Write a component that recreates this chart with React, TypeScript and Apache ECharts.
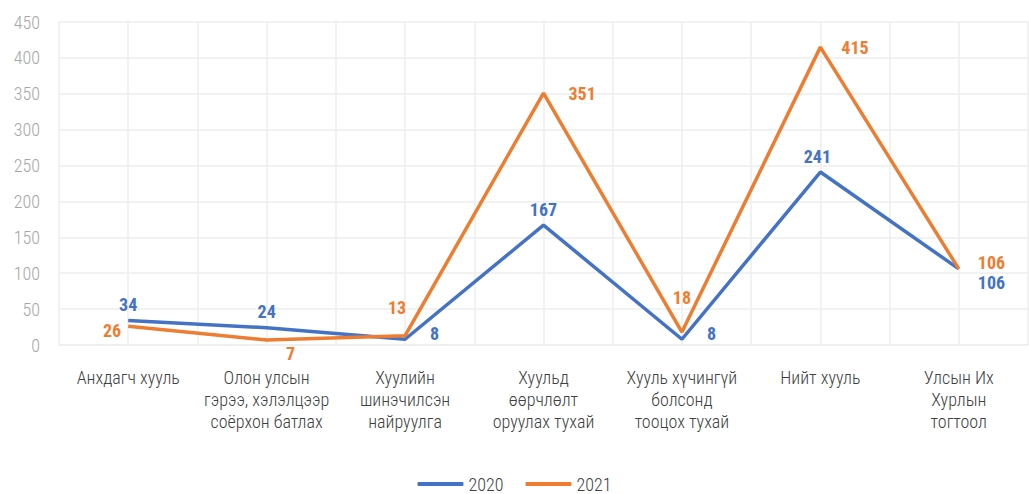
import React, { useEffect, useRef } from "react";
import * as echarts from "echarts";

const categories = [
  "Анхдагч хууль",
  "Олон улсын\nгэрээ, хэлэлцээр\nсоёрхон батлах",
  "Хуулийн\nшинэчилсэн\nнайруулга",
  "Хуульд\nөөрчлөлт\nоруулах тухай",
  "Хууль хүчингүй\nболсонд\nтооцох тухай",
  "Нийт хууль",
  "Улсын Их\nХурлын\nтогтоол",
];
const values2020 = [34, 24, 8, 167, 8, 241, 106];
const values2021 = [26, 7, 13, 351, 18, 415, 106];
const yTicks = { min: 0, max: 450, interval: 50 };

const FONT = "'Roboto Condensed', 'Liberation Sans Narrow', 'Arial Narrow', Roboto, sans-serif";
const BLUE = "#4472C4";
const ORANGE = "#ED7D31";

const pos2020: any[] = [
  { position: "top", offset: [0, -2] },
  { position: "top", offset: [0, -2] },
  { position: "right", offset: [20, -6] },
  { position: "top", offset: [0, -2] },
  { position: "right", offset: [20, -6] },
  { position: "top", offset: [-3, -2] },
  { position: "right", offset: [14, 14] },
];
const pos2021: any[] = [
  { position: "left", offset: [-2, 4] },
  { position: "bottom", offset: [24, 0] },
  { position: "top", offset: [-8, -14] },
  { position: "right", offset: [20, 0] },
  { position: "top", offset: [0, -21] },
  { position: "right", offset: [16, 0] },
  { position: "right", offset: [14, -6] },
];

export default function App() {
  const ref = useRef<HTMLDivElement>(null);
  useEffect(() => {
    if (!ref.current) return;
    const chart = echarts.init(ref.current, undefined, { renderer: "svg" });
    const labelStyle = (color: string) => ({
      show: true,
      color,
      fontFamily: FONT,
      fontWeight: "bold",
      fontSize: 18,
    });
    chart.setOption({
      animation: false,
      grid: { left: 59, right: 1, top: 22, bottom: 149 },
      legend: {
        top: 475,
        left: "center",
        padding: 0,
        itemWidth: 46,
        itemHeight: 4,
        itemGap: 22,
        icon: "roundRect",
        textStyle: { color: "#404040", fontSize: 18, fontFamily: FONT, fontWeight: 300, lineHeight: 18 },
        data: ["2020", "2021"],
      },
      xAxis: [
        {
          type: "category",
          data: categories,
          boundaryGap: true,
          axisLine: { show: true, lineStyle: { color: "#eeeeee", width: 1.5 } },
          axisTick: { show: false },
          splitLine: { show: false },
          axisLabel: {
            color: "#404040",
            fontSize: 18,
            fontFamily: FONT,
            fontWeight: 300,
            lineHeight: 22,
            margin: 21,
            interval: 0,
          },
        },
        {
          type: "category",
          data: Array.from({ length: categories.length * 2 }, (_, i) => String(i)),
          boundaryGap: true,
          position: "bottom",
          axisLine: { show: false },
          axisTick: { show: false },
          axisLabel: { show: false },
          splitLine: { show: true, lineStyle: { color: "#eeeeee", width: 1.5 } },
        },
      ],
      yAxis: {
        type: "value",
        min: yTicks.min,
        max: yTicks.max,
        interval: yTicks.interval,
        axisLine: { show: false },
        axisTick: { show: false },
        splitLine: { show: true, lineStyle: { color: "#eeeeee", width: 1.5 } },
        axisLabel: { color: "#a6a6a6", fontSize: 18, fontFamily: FONT, fontWeight: 300, margin: 19 },
      },
      series: [
        {
          name: "2020",
          type: "line",
          xAxisIndex: 0,
          data: values2020.map((v, i) => ({ value: v, label: { ...pos2020[i] } })),
          symbol: "circle",
          symbolSize: 0,
          showSymbol: true,
          lineStyle: { color: BLUE, width: 3.5 },
          itemStyle: { color: BLUE },
          label: labelStyle(BLUE),
          z: 3,
        },
        {
          name: "2021",
          type: "line",
          xAxisIndex: 0,
          data: values2021.map((v, i) => ({ value: v, label: { ...pos2021[i] } })),
          symbol: "circle",
          symbolSize: 0,
          showSymbol: true,
          lineStyle: { color: ORANGE, width: 3.5 },
          itemStyle: { color: ORANGE },
          label: labelStyle(ORANGE),
          z: 4,
        },
      ],
    });
    return () => chart.dispose();
  }, []);
  return (
    <div
      ref={ref}
      style={{ position: "absolute", left: 0, top: 0, width: 1029, height: 494 }}
    />
  );
}
